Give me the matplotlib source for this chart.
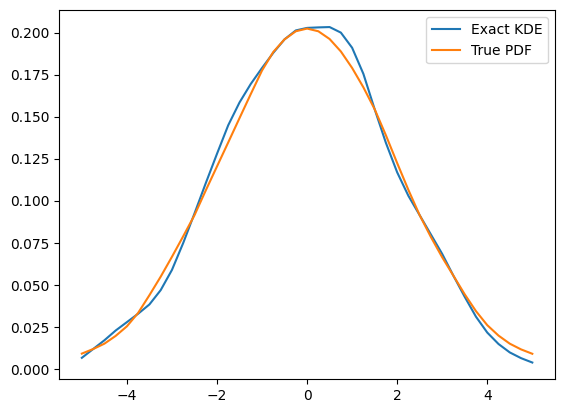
import matplotlib

matplotlib.use("Agg")
import matplotlib.pyplot as plt

# Evaluation grid and curve values
x_grid = [
    -5.0, -4.75, -4.5, -4.25, -4.0, -3.75, -3.5, -3.25, -3.0, -2.75, -2.5,
    -2.25, -2.0, -1.75, -1.5, -1.25, -1.0, -0.75, -0.5, -0.25, 0.0,
    0.25, 0.5, 0.75, 1.0, 1.25, 1.5, 1.75, 2.0, 2.25, 2.5,
    2.75, 3.0, 3.25, 3.5, 3.75, 4.0, 4.25, 4.5, 4.75, 5.0,
]

exact_kde = [
    0.0068, 0.0120, 0.0172, 0.0230, 0.0280, 0.0330, 0.0385, 0.0470, 0.0590, 0.0750, 0.0925,
    0.1105, 0.1280, 0.1450, 0.1585, 0.1695, 0.1790, 0.1880, 0.1960, 0.2013, 0.2028,
    0.2031, 0.2033, 0.2000, 0.1910, 0.1755, 0.1545, 0.1345, 0.1170, 0.1030, 0.0915,
    0.0800, 0.0685, 0.0555, 0.0430, 0.0312, 0.0218, 0.0150, 0.0100, 0.0066, 0.0040,
]

true_pdf = [
    0.0093, 0.0120, 0.0152, 0.0198, 0.0255, 0.0335, 0.0440, 0.0550, 0.0668, 0.0790, 0.0915,
    0.1062, 0.1205, 0.1348, 0.1492, 0.1635, 0.1775, 0.1885, 0.1960, 0.2008, 0.2024,
    0.2008, 0.1962, 0.1888, 0.1790, 0.1675, 0.1545, 0.1390, 0.1225, 0.1065, 0.0915,
    0.0785, 0.0665, 0.0555, 0.0445, 0.0345, 0.0262, 0.0200, 0.0152, 0.0118, 0.0092,
]

fig = plt.figure(figsize=(5.65, 4.13), dpi=100)
ax = fig.add_axes([0.105, 0.0816, 0.877, 0.8935])

ax.plot(x_grid, exact_kde, label="Exact KDE")
ax.plot(x_grid, true_pdf, label="True PDF")
ax.legend(loc="upper right")

fig.savefig("out.png", dpi=100)
plt.close(fig)
